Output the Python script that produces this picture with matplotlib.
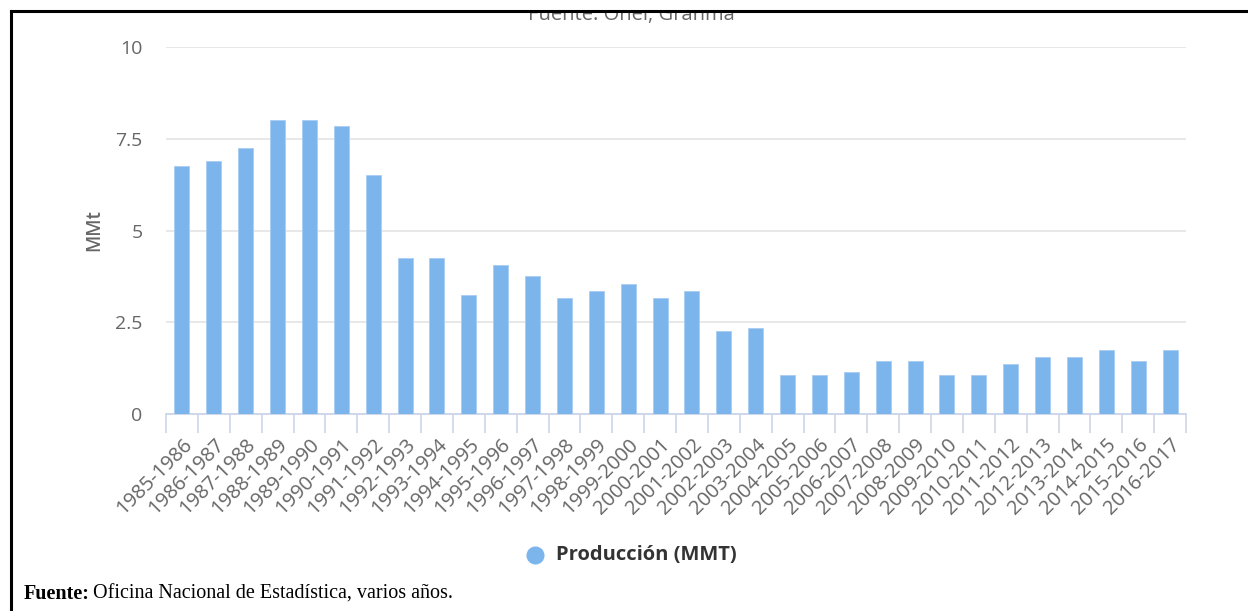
import matplotlib.pyplot as plt
from matplotlib.patches import Rectangle
from matplotlib.lines import Line2D

# data
years = list(range(1985, 2017))
labels = [f"{y}-{y + 1}" for y in years]
produccion = [6.75, 6.9, 7.25, 8.0, 8.0, 7.85, 6.5, 4.25, 4.25, 3.25,
              4.05, 3.75, 3.15, 3.35, 3.55, 3.15, 3.35, 2.25, 2.35, 1.05,
              1.05, 1.15, 1.45, 1.45, 1.05, 1.05, 1.35, 1.55, 1.55, 1.75,
              1.45, 1.75]
y_ticks = [0, 2.5, 5, 7.5, 10]
y_ticklabels = ["0", "2.5", "5", "7.5", "10"]

plt.rcParams['font.family'] = ['Open Sans', 'DejaVu Sans']

fig = plt.figure(figsize=(12.48, 6.11), dpi=100)
W, H = 1248, 611
ax = fig.add_axes([166 / W, 1 - 414 / H, (1186 - 166) / W, (414 - 47) / H])

x = list(range(len(labels)))
ax.bar(x, produccion, width=0.47, color='#7cb5ec', edgecolor='#a9cdf2',
       linewidth=0.6, zorder=3)

ax.set_xlim(-0.5, len(labels) - 0.5)
ax.set_ylim(0, 10)
ax.set_yticks(y_ticks)
ax.set_yticklabels(y_ticklabels, color='#666666', fontsize=14)
ax.tick_params(axis='y', length=0, pad=17)
ax.grid(axis='y', color='#e6e6e6', linewidth=1.3, zorder=0)

ax.set_xticks(x)
ax.set_xticklabels(labels, rotation=45, ha='right', rotation_mode='anchor',
                   color='#666666', fontsize=14.5)
ax.tick_params(axis='x', length=0, pad=15)
ax.set_xticks([i - 0.5 for i in range(len(labels) + 1)], minor=True)
ax.tick_params(axis='x', which='minor', length=14, color='#ccd6eb', width=1.2)

for s in ['top', 'right', 'left']:
    ax.spines[s].set_visible(False)
ax.spines['bottom'].set_color('#ccd6eb')
ax.spines['bottom'].set_linewidth(1.3)

ax.set_ylabel('MMt', color='#666666', fontsize=13.5, fontweight='semibold', labelpad=8)

# legend
fig.add_artist(Line2D([535 / W], [1 - 555 / H], marker='o', markersize=12,
                      color='#7cb5ec', linestyle='none'))
fig.text(556 / W, 1 - 555 / H, 'Producción (MMT)', fontsize=14.5, fontweight='bold',
         color='#333333', va='center', ha='left')

# clipped subtitle at the top
fig.text(631 / W, 1 - 15 / H, 'Fuente: Onei, Granma', fontsize=14.5, color='#666666',
         ha='center', va='center')
fig.add_artist(Rectangle((0, 1 - 12 / H), 1, 12 / H, transform=fig.transFigure,
                         facecolor='white', edgecolor='none', zorder=5))

# frame lines
fig.add_artist(Line2D([11 / W, 1], [1 - 11 / H, 1 - 11 / H], color='black',
                      linewidth=2.2, zorder=6))
fig.add_artist(Line2D([11 / W, 11 / W], [0, 1 - 11 / H], color='black',
                      linewidth=2.2, zorder=6))

# source note
fig.text(24 / W, 1 - 594 / H, 'Fuente:', fontsize=14.5, fontweight='bold',
         family='Liberation Serif', va='center', ha='left')
fig.text(93 / W, 1 - 594 / H, 'Oficina Nacional de Estadística, varios años.',
         fontsize=14.5, family='Liberation Serif', va='center', ha='left')

fig.savefig('out.png', dpi=100)
